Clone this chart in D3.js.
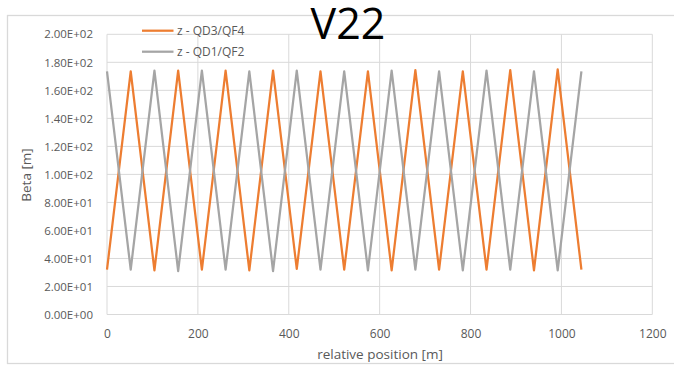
<!DOCTYPE html>
<html>
<head>
<meta charset="utf-8">
<script src="https://cdn.jsdelivr.net/npm/d3@7"></script>
<style>
  body { margin: 0; background: #fff; }
  svg { display: block; font-family: "Open Sans", sans-serif; }
</style>
</head>
<body>
<svg id="chart" width="674" height="367"></svg>
<script>
// values
var positions = [0, 52.2, 104.4, 156.6, 208.8, 261, 313.2, 365.4, 417.6, 469.8, 522,
                 574.2, 626.4, 678.6, 730.8, 783, 835.2, 887.4, 939.6, 991.8, 1044];
var betaQD3 = [32, 173.5, 31.5, 174, 32, 174, 31.5, 174, 32.5, 173.5, 32,
               173.5, 31.5, 174.5, 32, 173.5, 32, 174.5, 31.5, 175, 32];
var betaQD1 = [173.5, 32, 174, 31, 174, 32, 173.5, 31, 174, 32, 173.5,
               31.5, 174, 32, 173.5, 31.5, 174, 32, 173.5, 31.5, 173.5];
var seriesNames = ["z - QD3/QF4", "z - QD1/QF2"];
var xTicks = [0, 200, 400, 600, 800, 1000, 1200];
var yTicks = [0, 20, 40, 60, 80, 100, 120, 140, 160, 180, 200];

var color = d3.scaleOrdinal()
    .domain(seriesNames)
    .range(["#ED7D31", "#A5A5A5"]);

var margin = {top: 34.3, left: 107, bottom: 52.5, right: 21.7};
var width = 674 - margin.left - margin.right;
var height = 367 - margin.top - margin.bottom;

var svg = d3.select("#chart");

// outer chart border
svg.append("rect")
    .attr("x", 7.5).attr("y", 15.5)
    .attr("width", 670).attr("height", 348)
    .attr("fill", "none")
    .attr("stroke", "#D9D9D9")
    .attr("stroke-width", 1.3);

var g = svg.append("g")
    .attr("transform", "translate(" + margin.left + "," + margin.top + ")");

var xScale = d3.scaleLinear().domain([0, 1200]).range([0, width]);
var yScale = d3.scaleLinear().domain([0, 200]).range([height, 0]);

function sci(v) {
    var s = v.toExponential(2).split("e");
    var ex = +s[1];
    var sign = ex < 0 ? "-" : "+";
    var a = Math.abs(ex);
    return s[0] + "E" + sign + (a < 10 ? "0" + a : a);
}

// grid
g.append("g")
    .selectAll("line")
    .data(yTicks)
    .enter()
    .append("line")
    .attr("x1", 0).attr("x2", width)
    .attr("y1", d => yScale(d)).attr("y2", d => yScale(d))
    .attr("stroke", "#D9D9D9");

g.append("g")
    .selectAll("line")
    .data(xTicks)
    .enter()
    .append("line")
    .attr("x1", d => xScale(d)).attr("x2", d => xScale(d))
    .attr("y1", 0).attr("y2", height)
    .attr("stroke", "#D9D9D9");

// axes (labels only)
var xAxis = d3.axisBottom(xScale).tickValues(xTicks).tickSize(0).tickPadding(15).tickFormat(d3.format("d"));
var yAxis = d3.axisLeft(yScale).tickValues(yTicks).tickSize(0).tickPadding(14).tickFormat(sci);

g.append("g")
    .attr("class", "xaxis")
    .attr("transform", "translate(0," + height + ")")
    .call(xAxis)
    .call(a => a.select(".domain").remove())
    .selectAll("text")
    .style("font-size", "12px")
    .style("font-family", "Open Sans")
    .attr("fill", "#595959");

g.append("g")
    .attr("class", "yaxis")
    .call(yAxis)
    .call(a => a.select(".domain").remove())
    .selectAll("text")
    .style("font-size", "11.5px")
    .style("font-family", "Open Sans")
    .attr("fill", "#595959");

// axis titles
svg.append("text")
    .attr("x", 380).attr("y", 359)
    .attr("text-anchor", "middle")
    .style("font-size", "13.5px")
    .attr("fill", "#595959")
    .text("relative position [m]");

svg.append("text")
    .attr("transform", "translate(31,175) rotate(-90)")
    .attr("text-anchor", "middle")
    .style("font-size", "13.5px")
    .attr("fill", "#595959")
    .text("Beta [m]");

// lines
var slices = [
    {id: seriesNames[0], values: positions.map((p, i) => ({pos: p, beta: betaQD3[i]}))},
    {id: seriesNames[1], values: positions.map((p, i) => ({pos: p, beta: betaQD1[i]}))}
];

var line = d3.line()
    .x(d => xScale(d.pos))
    .y(d => yScale(d.beta));

g.selectAll(".series")
    .data(slices)
    .enter()
    .append("path")
    .attr("class", "series")
    .attr("d", d => line(d.values))
    .attr("fill", "none")
    .attr("stroke", d => color(d.id))
    .attr("stroke-width", 2.25)
    .attr("stroke-linejoin", "round");

// handmade legend
var legend = svg.append("g")
    .selectAll("g")
    .data(seriesNames)
    .enter()
    .append("g")
    .attr("transform", (d, i) => "translate(142," + (30.7 + i * 21) + ")");

legend.append("line")
    .attr("x1", 0).attr("x2", 31.5)
    .attr("stroke", d => color(d))
    .attr("stroke-width", 2.25);

legend.append("text")
    .attr("x", 35)
    .attr("y", 4.3)
    .style("font-size", "12px")
    .attr("fill", "#595959")
    .text(d => d);

// title
svg.append("text")
    .attr("x", 348).attr("y", 38.5)
    .attr("text-anchor", "middle")
    .style("font-size", "43px")
    .attr("fill", "#000")
    .text("V22");
</script>
</body>
</html>
